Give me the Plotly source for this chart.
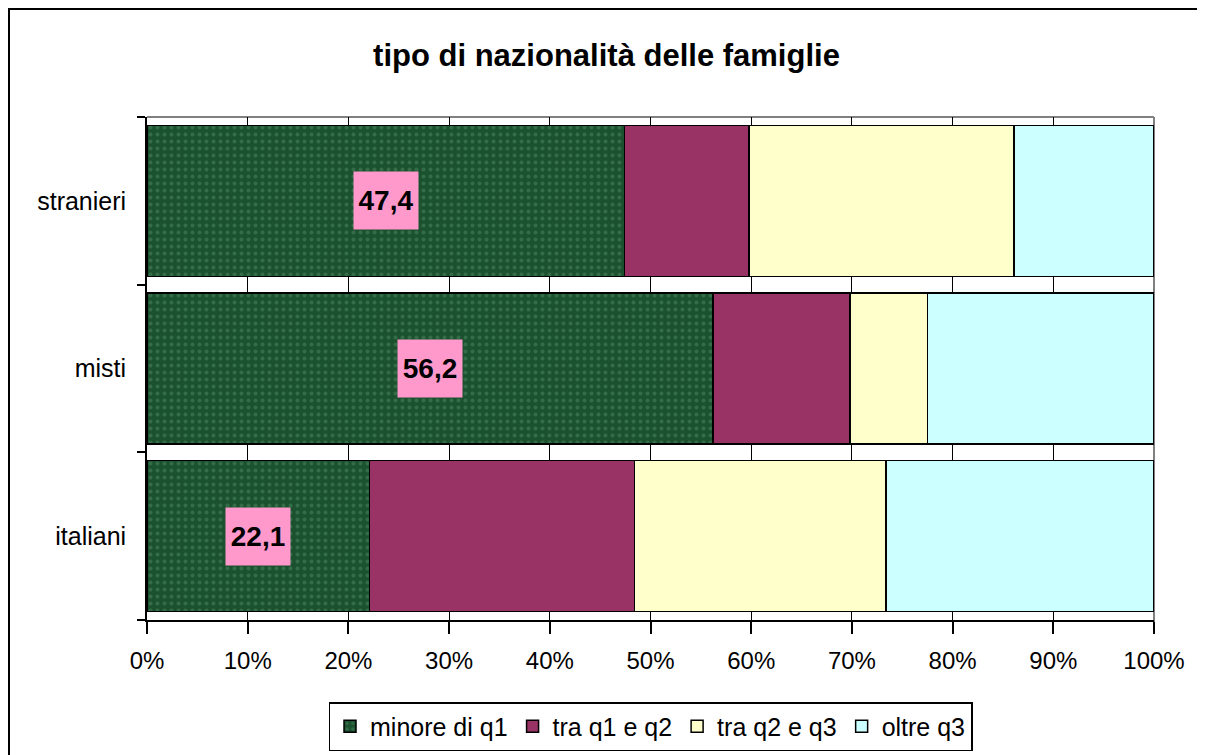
import plotly.graph_objects as go

categories = ["italiani", "misti", "stranieri"]
series_names = ["minore di q1", "tra q1 e q2", "tra q2 e q3", "oltre q3"]
minore_q1 = [22.1, 56.2, 47.4]
tra_q1_q2 = [26.3, 13.6, 12.4]
tra_q2_q3 = [25.0, 7.7, 26.3]
oltre_q3 = [26.6, 22.5, 13.9]
label_texts = ["22,1", "56,2", "47,4"]
x_ticks = [0, 10, 20, 30, 40, 50, 60, 70, 80, 90, 100]
x_tick_labels = [f"{t}%" for t in x_ticks]

series_values = [minore_q1, tra_q1_q2, tra_q2_q3, oltre_q3]
colors = ["#215a35", "#993366", "#ffffcc", "#ccffff"]

FONT = "Arial, Liberation Sans, sans-serif"

# the page body adds an 8px offset
W, H = 1197, 747
L, T = 139, 109
PW, PH = 1007, 503
R, B = W - L - PW, H - T - PH

fig = go.Figure()
for name, vals, col in zip(series_names, series_values, colors):
    marker = dict(color=col, line=dict(color="black", width=1.5))
    if name == "minore di q1":
        marker["pattern"] = dict(shape=".", bgcolor="#1c5130", fgcolor="#4a8a5e",
                                 size=7, solidity=0.25, fillmode="overlay")
    fig.add_trace(go.Bar(
        y=categories, x=vals, name=name, orientation="h",
        marker=marker, hoverinfo="skip",
    ))

for cat, v, t in zip(categories, minore_q1, label_texts):
    fig.add_annotation(
        x=v / 2, y=cat, text=f"<b>{t}</b>", showarrow=False,
        font=dict(family=FONT, size=28, color="black"),
        bgcolor="#ff99cc", borderpad=4, width=56, height=49,
    )

fig.update_layout(
    barmode="stack",
    bargap=0.1,
    width=W, height=H,
    margin=dict(l=L, r=R, t=T, b=B, autoexpand=False),
    paper_bgcolor="white", plot_bgcolor="white",
    font=dict(family=FONT, size=25, color="black"),
    title=dict(text="<b>tipo di nazionalità delle famiglie</b>",
               x=0.5, xanchor="center", y=1 - 47 / H, yanchor="middle",
               font=dict(family=FONT, size=31, color="black")),
    legend=dict(orientation="h", x=0.5, xanchor="center", y=-82 / PH, yanchor="top",
                bordercolor="black", borderwidth=1.5,
                font=dict(family=FONT, size=25, color="black"),
                traceorder="normal", itemwidth=30),
    xaxis=dict(range=[0, 100], tickvals=x_ticks, ticktext=x_tick_labels,
               showgrid=True, gridcolor="black", gridwidth=1,
               ticks="outside", ticklen=12, tickcolor="black", tickwidth=1.5,
               showline=True, linecolor="black", linewidth=2,
               zeroline=False, layer="below traces", automargin=False,
               ticklabelstandoff=6,
               tickfont=dict(family=FONT, size=24)),
    yaxis=dict(showline=True, linecolor="black", linewidth=2,
               ticks="outside", ticklen=8, tickcolor="black", tickwidth=1.5,
               tickson="boundaries", showgrid=False, automargin=False,
               tickfont=dict(family=FONT, size=25), ticksuffix="  "),
    shapes=[
        dict(type="line", xref="paper", yref="paper", x0=0, x1=1, y0=1, y1=1,
             line=dict(color="#808080", width=2), layer="below"),
        dict(type="line", xref="paper", yref="paper", x0=1, x1=1, y0=-12 / PH, y1=1,
             line=dict(color="#808080", width=2), layer="below"),
        dict(type="rect", xref="paper", yref="paper",
             x0=(1 - L) / PW, x1=(W + 10 - L) / PW, y0=-(H + 20 - (T + PH)) / PH,
             y1=1 + (T - 1) / PH,
             line=dict(color="black", width=2), layer="below"),
    ],
)

fig.write_html("out.html")
